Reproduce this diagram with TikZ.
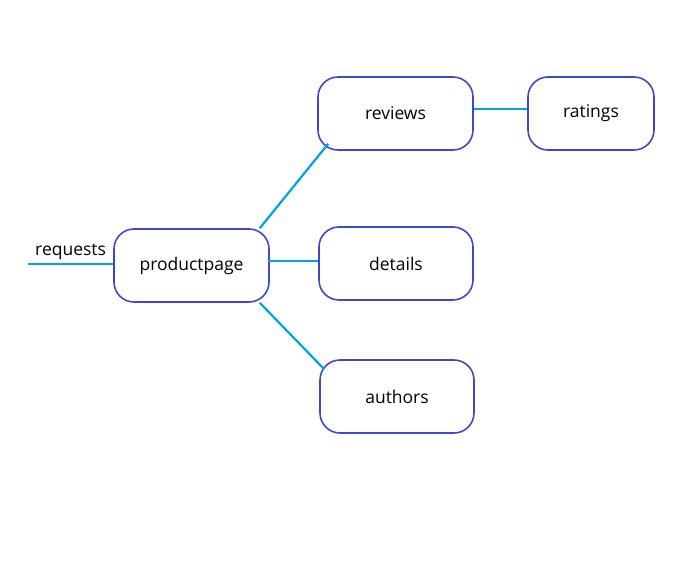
\documentclass[tikz,border=0pt]{standalone}
\usepackage{fontspec}
\setmainfont{Open Sans}
\definecolor{caixa}{RGB}{63,72,204}
\definecolor{linha}{RGB}{0,162,232}

\begin{document}
\begin{tikzpicture}[x=1pt,y=-1pt,
    servico/.style={draw=caixa,line width=1.6pt,rounded corners=20pt,fill=white,
        minimum height=73pt,font=\fontsize{17.5}{20}\selectfont},
    ligacao/.style={linha,line width=2.2pt}]
        \useasboundingbox (0,0) rectangle (696,564);
        % Serviços
        \node[servico,minimum width=155pt] (pp) at (191.5,265.5) {productpage};
        \node[servico,minimum width=155pt] (rev) at (395.5,113.5) {reviews};
        \node[servico,minimum width=126pt] (rat) at (591,113.5) {ratings};
        \node[servico,minimum width=154pt] (det) at (396,263.5) {details};
        \node[servico,minimum width=154pt] (aut) at (397,396.5) {authors};
        % Entrada
        \coordinate (req) at (28,264);
        \draw[ligacao] (req) -- node[above,black,font=\fontsize{17.5}{20}\selectfont] {requests} (req -| pp.west);
        % Ligações
        \draw[ligacao] ([xshift=-10pt]pp.north east) -- ([xshift=11pt,yshift=7pt]rev.south west);
        \draw[ligacao] ([xshift=-2pt,yshift=4.5pt]pp.east) -- ([yshift=2.5pt]det.west);
        \draw[ligacao] ([xshift=-10pt]pp.south east) -- ([xshift=5pt,yshift=-10pt]aut.north west);
        \draw[ligacao] ([yshift=4.5pt]rev.east) -- ([yshift=4.5pt]rat.west);
    \end{tikzpicture}
\end{document}
